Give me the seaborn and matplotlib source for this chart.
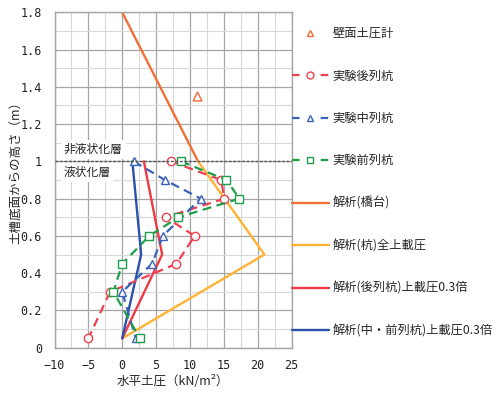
import matplotlib
matplotlib.use("Agg")
import matplotlib.pyplot as plt
from matplotlib.lines import Line2D
from matplotlib.ticker import MultipleLocator, FuncFormatter
import seaborn as sns
import pandas as pd

# ---- measured earth pressure (kN/m2) vs height above tank bottom (m) ----
wall_x = [11.0]
wall_y = [1.35]

rear_x = [7.2, 14.6, 15.1, 6.4, 10.7, 8.0, -1.8, -5.0]
rear_y = [1.0, 0.9, 0.8, 0.7, 0.6, 0.45, 0.3, 0.05]

mid_x = [1.7, 6.3, 11.6, 6.0, 4.4, 0.0, 2.0]
mid_y = [1.0, 0.9, 0.8, 0.6, 0.45, 0.3, 0.05]

front_x = [8.7, 15.4, 17.3, 8.3, 4.0, 0.0, -1.3, 2.6]
front_y = [1.0, 0.9, 0.8, 0.7, 0.6, 0.45, 0.3, 0.05]

# ---- analysis results ----
abut_x = [0.0, 11.2]
abut_y = [1.8, 1.0]

pile_full_x = [11.2, 21.0, 0.0]
pile_full_y = [1.0, 0.5, 0.05]

rear_03_x = [3.2, 5.9, 0.0]
rear_03_y = [1.0, 0.5, 0.05]

midfront_03_x = [1.5, 2.8, 0.0]
midfront_03_y = [1.0, 0.5, 0.05]

labels = ["壁面土圧計", "実験後列杭", "実験中列杭", "実験前列杭",
          "解析(橋台)", "解析(杭)全上載圧",
          "解析(後列杭)上載圧0.3倍", "解析(中・前列杭)上載圧0.3倍"]

x_ticks = [-10, -5, 0, 5, 10, 15, 20, 25]
y_ticks = [0, 0.2, 0.4, 0.6, 0.8, 1.0, 1.2, 1.4, 1.6, 1.8]

sns.set_theme(style="white")
plt.rcParams["font.family"] = ["Noto Sans CJK JP", "DejaVu Sans"]

c_wall = "#f26b3a"
c_rear = "#f0404f"
c_mid = "#3a62b8"
c_front = "#1e9e4a"
c_abut = "#f07038"
c_full = "#ffb233"
c_rear03 = "#f03a46"
c_mf03 = "#2b52a8"

fig = plt.figure(figsize=(4.97, 3.94), dpi=100)
ax = fig.add_axes([54.5 / 497, 46.3 / 394, 237.0 / 497, 335.4 / 394])

dash = (4, 2.5)


def draw(xs, ys, color, ls_dashes=None, marker=None, lw=1.6):
    df = pd.DataFrame({"x": xs, "y": ys})
    sns.lineplot(data=df, x="x", y="y", sort=False, estimator=None, ax=ax,
                 color=color, linewidth=lw)
    ln = ax.lines[-1]
    if ls_dashes is not None:
        ln.set_dashes(ls_dashes)
    if marker is not None:
        ln.set_marker(marker)
        ln.set_markersize(6)
        ln.set_markerfacecolor("white")
        ln.set_markeredgecolor(color)
        ln.set_markeredgewidth(1.0)


# analysis lines
draw(abut_x, abut_y, c_abut, lw=1.7)
draw(pile_full_x, pile_full_y, c_full, lw=1.7)
draw(rear_03_x, rear_03_y, c_rear03, lw=1.7)
draw(midfront_03_x, midfront_03_y, c_mf03, lw=1.7)

# experiment lines
draw(rear_x, rear_y, c_rear, ls_dashes=dash, marker="o")
draw(mid_x, mid_y, c_mid, ls_dashes=dash, marker="^")
draw(front_x, front_y, c_front, ls_dashes=dash, marker="s")

sns.scatterplot(x=wall_x, y=wall_y, ax=ax, marker="^", s=40,
                facecolor="white", edgecolor=c_wall, linewidth=1.0, zorder=5)

# boundary between liquefied and non-liquefied layers
ax.axhline(1.0, color="#555555", lw=1.0, ls=(0, (2, 1.2)), zorder=4)
box = dict(facecolor="white", edgecolor="none", pad=2)
ax.text(-8.6, 1.065, "非液状化層", fontsize=8.5, va="center", ha="left",
        bbox=box, zorder=6)
ax.text(-8.6, 0.94, "液状化層", fontsize=8.5, va="center", ha="left",
        bbox=box, zorder=6)

ax.set_xlim(-10, 25)
ax.set_ylim(0, 1.8)
ax.set_xticks(x_ticks)
ax.set_yticks(y_ticks)
ax.xaxis.set_minor_locator(MultipleLocator(2.5))
ax.yaxis.set_minor_locator(MultipleLocator(0.1))
ax.yaxis.set_major_formatter(FuncFormatter(lambda v, p: f"{v:g}"))
ax.xaxis.set_major_formatter(FuncFormatter(lambda v, p: f"{v:g}".replace("-", "−")))
ax.grid(which="major", color="#a6a6a6", lw=0.9)
ax.grid(which="minor", color="#d9d9d9", lw=0.8)
ax.set_axisbelow(True)
ax.tick_params(which="both", length=0, labelsize=8.5, colors="#222222")
ax.tick_params(axis="x", pad=8)
ax.tick_params(axis="y", pad=9)
for lab in ax.get_xticklabels() + ax.get_yticklabels():
    lab.set_family(["DejaVu Sans Mono"])
for s in ax.spines.values():
    s.set_color("#a6a6a6")
    s.set_linewidth(1.0)

ax.set_xlabel("水平土圧（kN/m²）", fontsize=9, labelpad=2)
ax.set_ylabel("土槽底面からの高さ（m）", fontsize=9)
ax.yaxis.set_label_coords(-0.135, 0.53)

leg_dash = (3.4, 9.5)
handles = [
    Line2D([], [], ls="none", marker="^", ms=5, mfc="white", mec=c_wall, mew=1.0),
    Line2D([], [], color=c_rear, lw=1.6, dashes=leg_dash, marker="o", ms=5, mfc="white", mec=c_rear),
    Line2D([], [], color=c_mid, lw=1.6, dashes=leg_dash, marker="^", ms=5, mfc="white", mec=c_mid),
    Line2D([], [], color=c_front, lw=1.6, dashes=leg_dash, marker="s", ms=5, mfc="white", mec=c_front),
    Line2D([], [], color=c_abut, lw=1.7),
    Line2D([], [], color=c_full, lw=1.7),
    Line2D([], [], color=c_rear03, lw=1.7),
    Line2D([], [], color=c_mf03, lw=1.7),
]
fig.legend(handles, labels, loc="upper left",
           bbox_to_anchor=(292 / 497, 1 - 27 / 394), frameon=False,
           fontsize=8.8, handlelength=3.0, handletextpad=0.3,
           labelspacing=2.41, borderpad=0, borderaxespad=0)

fig.savefig("out.png", dpi=100)
